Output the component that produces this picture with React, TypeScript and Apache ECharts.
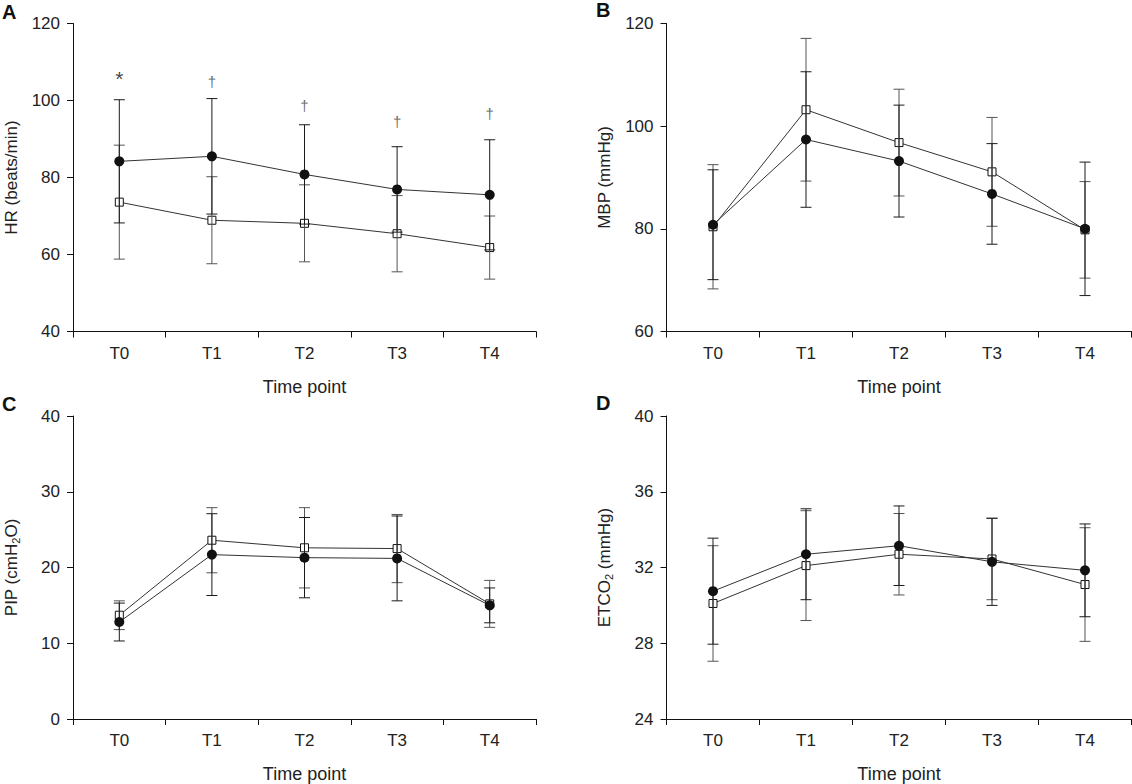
import React, { useEffect, useRef } from "react";
import * as echarts from "echarts";

const timePoints = ["T0", "T1", "T2", "T3", "T4"];

// Panel A: HR (beats/min)
const hrCircleMean = [84.2, 85.5, 80.8, 76.9, 75.5];
const hrCircleSD = [16.0, 15.0, 12.9, 11.1, 14.3];
const hrSquareMean = [73.6, 68.9, 68.1, 65.4, 61.8];
const hrSquareSD = [14.8, 11.3, 10.0, 9.9, 8.2];
const hrMarks = ["*", "\u2020", "\u2020", "\u2020", "\u2020"];
const hrMarkValues = [105.6, 104.9, 98.8, 94.6, 96.6];

// Panel B: MBP (mmHg)
const mbpCircleMean = [80.8, 97.4, 93.2, 86.8, 80.0];
const mbpCircleSD = [10.7, 13.2, 10.9, 9.8, 13.0];
const mbpSquareMean = [80.4, 103.2, 96.8, 91.1, 79.8];
const mbpSquareSD = [12.1, 13.9, 10.4, 10.6, 9.4];

// Panel C: PIP (cmH2O)
const pipCircleMean = [12.8, 21.7, 21.3, 21.2, 15.0];
const pipCircleSD = [2.5, 5.4, 5.3, 5.6, 2.3];
const pipSquareMean = [13.7, 23.6, 22.6, 22.5, 15.2];
const pipSquareSD = [1.9, 4.3, 5.3, 4.5, 3.1];

// Panel D: ETCO2 (mmHg)
const etCircleMean = [30.75, 32.7, 33.15, 32.3, 31.85];
const etCircleSD = [2.8, 2.4, 2.1, 2.3, 2.45];
const etSquareMean = [30.1, 32.1, 32.7, 32.45, 31.1];
const etSquareSD = [3.05, 2.9, 2.15, 2.15, 3.0];

const FONT = "Liberation Sans";

const panels = [
  { letter: "A", name: "HR (beats/min)", min: 40, max: 120, interval: 20, cm: hrCircleMean, cs: hrCircleSD, sm: hrSquareMean, ss: hrSquareSD },
  { letter: "B", name: "MBP (mmHg)", min: 60, max: 120, interval: 20, cm: mbpCircleMean, cs: mbpCircleSD, sm: mbpSquareMean, ss: mbpSquareSD },
  { letter: "C", name: "PIP (cmH{sub|2}O)", min: 0, max: 40, interval: 10, cm: pipCircleMean, cs: pipCircleSD, sm: pipSquareMean, ss: pipSquareSD },
  { letter: "D", name: "ETCO{sub|2} (mmHg)", min: 24, max: 40, interval: 4, cm: etCircleMean, cs: etCircleSD, sm: etSquareMean, ss: etSquareSD },
];

const grids = [
  { left: 70.5, top: 23.5, width: 465.5, height: 308 },
  { left: 666.5, top: 23.5, width: 465, height: 308 },
  { left: 70.5, top: 416, width: 465.5, height: 308.5 },
  { left: 666.5, top: 416, width: 465, height: 308.5 },
];

const letterPos = [
  { left: 2, top: 2 },
  { left: 596, top: 0 },
  { left: 2, top: 394 },
  { left: 596, top: 393 },
];

function errorBarSeries(idx: number, mean: number[], sd: number[], color: string) {
  return {
    type: "custom",
    xAxisIndex: idx,
    yAxisIndex: idx,
    z: 3,
    silent: true,
    encode: { x: 0, y: [1, 2] },
    data: timePoints.map((_, i) => [i, mean[i] - sd[i], mean[i] + sd[i]]),
    renderItem: (params: any, api: any) => {
      const x = api.value(0);
      const pLo = api.coord([x, api.value(1)]);
      const pHi = api.coord([x, api.value(2)]);
      const w = 5.5;
      const st = { stroke: color, lineWidth: 1 };
      return {
        type: "group",
        children: [
          { type: "line", shape: { x1: pLo[0], y1: pLo[1], x2: pHi[0], y2: pHi[1] }, style: st },
          { type: "line", shape: { x1: pLo[0] - w, y1: pLo[1], x2: pLo[0] + w, y2: pLo[1] }, style: st },
          { type: "line", shape: { x1: pHi[0] - w, y1: pHi[1], x2: pHi[0] + w, y2: pHi[1] }, style: st },
        ],
      };
    },
  };
}

export default function App() {
  const ref = useRef<HTMLDivElement>(null);
  useEffect(() => {
    if (!ref.current) return;
    const chart = echarts.init(ref.current, undefined, { renderer: "svg" });
    const xAxis = panels.map((_, i) => ({
      type: "category",
      gridIndex: i,
      data: timePoints,
      boundaryGap: true,
      name: "Time point",
      nameLocation: "middle",
      nameGap: 46,
      nameTextStyle: { fontFamily: FONT, fontSize: 18, color: "#222" },
      axisLine: { show: true, lineStyle: { color: "#111", width: 1 } },
      axisTick: { show: true, length: 6, interval: 0, lineStyle: { color: "#111" } },
      axisLabel: { margin: 13, fontFamily: FONT, fontSize: 17, color: "#222", interval: 0 },
      splitLine: { show: false },
    }));
    const yAxis = panels.map((p, i) => ({
      type: "value",
      gridIndex: i,
      min: p.min,
      max: p.max,
      interval: p.interval,
      name: p.name,
      nameLocation: "middle",
      nameRotate: 90,
      nameGap: 52,
      nameTextStyle: {
        fontFamily: FONT,
        fontSize: 17,
        color: "#222",
        lineHeight: 20,
        rich: {
          sub: { fontFamily: FONT, fontSize: 11, color: "#222", verticalAlign: "bottom", lineHeight: 20 },
        },
      },
      axisLine: { show: true, lineStyle: { color: "#111", width: 1 } },
      axisTick: { show: true, length: 6, lineStyle: { color: "#111" } },
      axisLabel: { margin: 13, fontFamily: FONT, fontSize: 17, color: "#222" },
      splitLine: { show: false },
    }));
    const series: any[] = [];
    panels.forEach((p, i) => {
      series.push({
        type: "line",
        xAxisIndex: i,
        yAxisIndex: i,
        z: 2,
        data: p.sm,
        symbol: "rect",
        symbolSize: 8,
        lineStyle: { color: "#333", width: 1 },
        itemStyle: { color: "#fff", borderColor: "#111", borderWidth: 1 },
      });
      series.push(errorBarSeries(i, p.sm, p.ss, "#555"));
      series.push(errorBarSeries(i, p.cm, p.cs, "#1a1a1a"));
      series.push({
        type: "line",
        xAxisIndex: i,
        yAxisIndex: i,
        z: 4,
        data: p.cm,
        symbol: "circle",
        symbolSize: 10,
        lineStyle: { color: "#333", width: 1 },
        itemStyle: { color: "#111", borderColor: "#111", borderWidth: 0 },
      });
    });
    series.push({
      type: "scatter",
      xAxisIndex: 0,
      yAxisIndex: 0,
      z: 5,
      data: hrMarkValues.map((v, i) => ({
        value: [i, v],
        label: { fontSize: hrMarks[i] === "*" ? 21 : 15, color: hrMarks[i] === "*" ? "#111" : "#444" },
      })),
      symbol: "circle",
      symbolSize: 1,
      itemStyle: { color: "rgba(0,0,0,0)" },
      label: {
        show: true,
        position: "inside",
        formatter: (q: any) => hrMarks[q.dataIndex],
        fontFamily: FONT,
        fontSize: 15,
        color: "#333",
      },
    });
    chart.setOption({
      animation: false,
      backgroundColor: "#fff",
      title: panels.map((p, i) => ({
        text: p.letter,
        left: letterPos[i].left,
        top: letterPos[i].top,
        padding: 0,
        textStyle: { fontFamily: FONT, fontSize: 20, fontWeight: "bold", color: "#111" },
      })),
      grid: grids,
      xAxis,
      yAxis,
      series,
    });
    return () => chart.dispose();
  }, []);
  return (
    <div
      ref={ref}
      style={{ position: "fixed", left: 0, top: 0, width: 1132, height: 784, background: "#fff" }}
    />
  );
}
